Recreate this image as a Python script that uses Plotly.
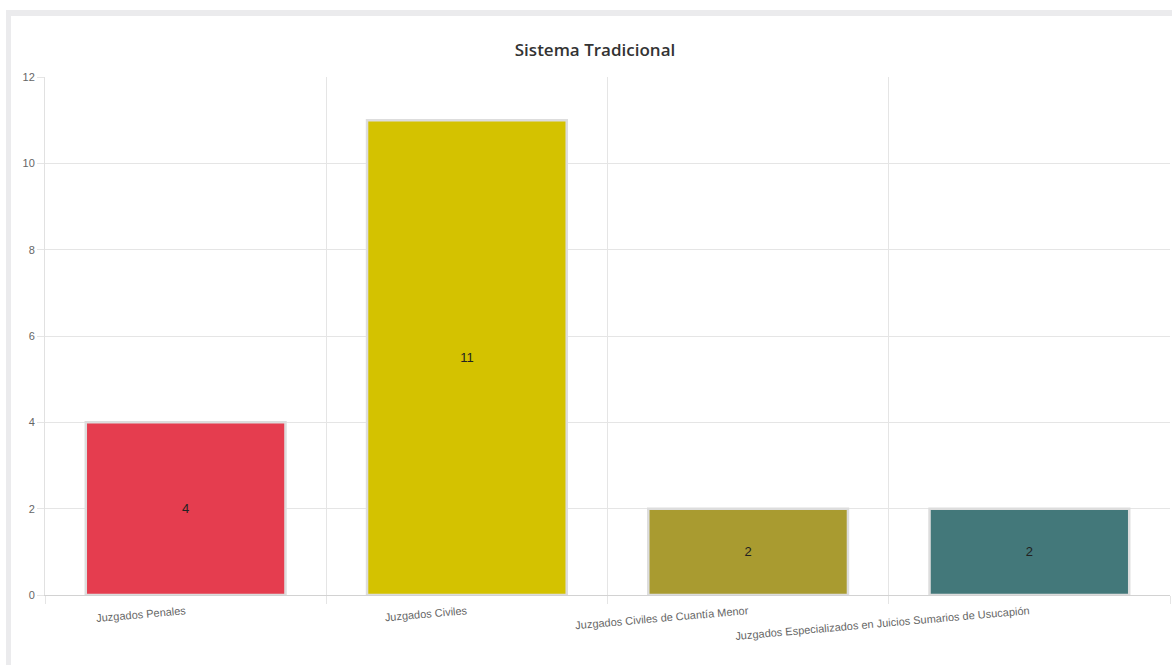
import plotly.graph_objects as go

categories = ["Juzgados Penales", "Juzgados Civiles", "Juzgados Civiles de Cuantía Menor",
              "Juzgados Especializados en Juicios Sumarios de Usucapión"]
values = [4, 11, 2, 2]
colors = ["rgb(229,61,79)", "rgb(212,194,0)", "rgb(169,155,48)", "rgb(67,120,122)"]
title_text = "Sistema Tradicional"

W, H = 1172, 665
L, R, T, B = 45, 2, 77, 70
pw, ph = W - L - R, H - T - B


def px_x(x):
    return (x - L) / pw


def px_y(y):
    return (H - B - y) / ph


fig = go.Figure()
fig.add_trace(go.Bar(
    x=categories, y=values,
    marker=dict(color=colors, line=dict(color="rgb(221,221,221)", width=2.5)),
    width=0.71,
    text=[str(v) for v in values],
    textposition="inside", insidetextanchor="middle",
    textfont=dict(family="Liberation Sans, Arial", size=13, color="#222"),
    textangle=0,
    hoverinfo="x+y",
))

shapes = [
    dict(type="rect", xref="paper", yref="paper", layer="below",
         x0=px_x(6), x1=px_x(W + 10), y0=px_y(H + 10), y1=px_y(10),
         fillcolor="rgb(235,235,237)", line=dict(width=0)),
    dict(type="rect", xref="paper", yref="paper", layer="below",
         x0=px_x(11), x1=px_x(W + 10), y0=px_y(H + 10), y1=px_y(16),
         fillcolor="white", line=dict(width=0)),
]

fig.update_layout(
    width=W, height=H,
    margin=dict(l=L, r=R, t=T, b=B, pad=0),
    paper_bgcolor="white", plot_bgcolor="rgba(0,0,0,0)",
    shapes=shapes,
    showlegend=False,
    title=dict(text=title_text, x=595 / W, xref="container", xanchor="center",
               y=1 - 50 / H, yref="container", yanchor="middle",
               font=dict(family="Open Sans, Noto Sans", size=17, color="#333", weight=600)),
    xaxis=dict(type="category", tickson="boundaries", showgrid=True, gridcolor="rgb(229,229,229)",
               ticks="outside", ticklen=8, tickcolor="rgb(229,229,229)",
               tickangle=-5, ticklabelstandoff=5,
               tickfont=dict(family="Liberation Sans, Arial", size=11, color="#666666"),
               showline=True, linecolor="rgb(210,210,210)", linewidth=1, zeroline=False,
               range=[-0.5, 3.5]),
    yaxis=dict(range=[0, 12], dtick=2, showgrid=True, gridcolor="rgb(229,229,229)",
               ticks="outside", ticklen=7, tickcolor="rgb(229,229,229)",
               tickfont=dict(family="Liberation Sans, Arial", size=11, color="#666666"),
               showline=True, linecolor="rgb(225,225,225)", linewidth=1, zeroline=False),
)

fig.write_html("out.html", config={"displayModeBar": False},
               post_script="document.body.style.margin='0';")
